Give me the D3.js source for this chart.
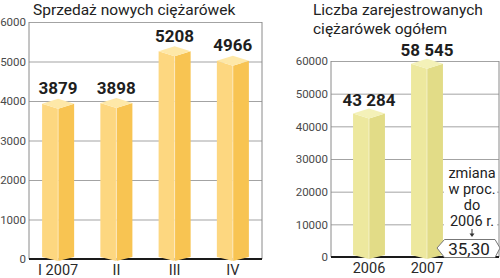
<!DOCTYPE html>
<html lang="pl">
<head>
<meta charset="utf-8">
<title>Ciężarówki</title>
<style>
  body { margin: 0; background: #fff; }
  svg { display: block; }
  .title { font-family: Roboto, sans-serif; font-size: 15.5px; fill: #222; }
  .tick text { font-family: Roboto, sans-serif; }
</style>
</head>
<body>
<script src="https://cdnjs.cloudflare.com/ajax/libs/d3/7.9.0/d3.min.js"></script>
<script>
// sales of new trucks, by quarter
const salesQuarters = ["I 2007", "II", "III", "IV"];
const salesValues = [3879, 3898, 5208, 4966];
const salesLabels = ["3879", "3898", "5208", "4966"];
const salesTicks = [0, 1000, 2000, 3000, 4000, 5000, 6000];

// registered trucks total
const regYears = ["2006", "2007"];
const regValues = [43284, 58545];
const regLabels = ["43 284", "58 545"];
const regTicks = [0, 10000, 20000, 30000, 40000, 50000, 60000];

const changeNote = ["zmiana", "w proc.", "do", "2006 r."];
const changeValue = "35,30";

const svg = d3.select("body").append("svg")
    .attr("width", 500)
    .attr("height", 278);

function panel(o) {
    const g = svg.append("g");

    const x = d3.scaleBand()
        .domain(o.cats)
        .range(o.band)
        .paddingInner(0.45)
        .paddingOuter(0.225);

    const y = d3.scaleLinear()
        .domain([0, o.max])
        .range([o.zero, o.top]);

    // grid + tick labels
    const ax = g.append("g")
        .attr("transform", `translate(${o.x0},0)`)
        .call(d3.axisLeft(y).tickValues(o.ticks).tickFormat(d3.format("d"))
            .tickSize(-(o.x1 - o.x0)).tickPadding(3));
    ax.select(".domain").remove();
    ax.selectAll(".tick line").attr("stroke", "#a3a3a3");
    ax.selectAll(".tick text")
        .attr("fill", "#4a4a4a")
        .style("font-size", "11.5px");

    // frame
    g.append("line")
        .attr("x1", o.x0).attr("x2", o.x0)
        .attr("y1", o.top).attr("y2", o.zero)
        .attr("stroke", "#8a8a8a");
    g.append("line")
        .attr("x1", o.x1).attr("x2", o.x1)
        .attr("y1", o.top).attr("y2", o.zero)
        .attr("stroke", "#8a8a8a");
    g.append("line")
        .attr("x1", o.x0).attr("x2", o.x1)
        .attr("y1", o.zero).attr("y2", o.zero)
        .attr("stroke", "#1a1a1a")
        .attr("stroke-width", 2);

    // category labels
    const bx = g.append("g")
        .attr("transform", `translate(0,${o.zero})`)
        .call(d3.axisBottom(x).tickSize(0).tickPadding(6));
    bx.select(".domain").remove();
    bx.selectAll(".tick text")
        .attr("fill", "#2a2a2a")
        .style("font-size", "14.5px");

    // 3d-ish bars
    const d = 5;
    const bw = x.bandwidth();
    const bars = g.selectAll(".bar")
        .data(o.cats.map((c, i) => ({ c, v: o.values[i], label: o.labels[i] })))
        .join("g")
        .attr("class", "bar");

    const geo = p => {
        const l = x(p.c), r = l + bw, m = l + bw / 2;
        const t = y(p.v) - 2, b = y(0);
        return { l, r, m, t, b };
    };

    bars.append("path")
        .attr("fill", o.colors[1])
        .attr("d", p => {
            const s = geo(p);
            return `M${s.l},${s.t}L${s.m},${s.t + d}L${s.m},${s.b + 2}L${s.l},${s.b - 2}Z`;
        });
    bars.append("path")
        .attr("fill", o.colors[2])
        .attr("d", p => {
            const s = geo(p);
            return `M${s.m},${s.t + d}L${s.r},${s.t}L${s.r},${s.b - 2}L${s.m},${s.b + 2}Z`;
        });
    bars.append("path")
        .attr("fill", o.colors[0])
        .attr("d", p => {
            const s = geo(p);
            return `M${s.l},${s.t}L${s.m},${s.t - d}L${s.r},${s.t}L${s.m},${s.t + d}Z`;
        });
    bars.append("line")
        .attr("stroke", "#fff")
        .attr("stroke-opacity", 0.6)
        .attr("stroke-width", 0.8)
        .attr("x1", p => geo(p).m).attr("x2", p => geo(p).m)
        .attr("y1", p => geo(p).t + d).attr("y2", p => geo(p).b + 2);

    bars.append("text")
        .attr("x", p => geo(p).m)
        .attr("y", p => y(p.v) - o.labelGap)
        .attr("text-anchor", "middle")
        .style("font-family", "Roboto, sans-serif")
        .style("font-weight", 700)
        .style("font-size", "17px")
        .attr("fill", "#1e1e1e")
        .text(p => p.label);

    return { g, x, y };
}

// left: sales
svg.append("text").attr("class", "title")
    .attr("x", 33).attr("y", 15)
    .text("Sprzedaż nowych ciężarówek");

panel({
    cats: salesQuarters, values: salesValues, labels: salesLabels, ticks: salesTicks,
    max: 6000, x0: 29, x1: 262, band: [29, 262], top: 22, zero: 259,
    labelGap: 11.5,
    colors: ["#fee8a8", "#fdd780", "#f8c452"]
});

// right: registrations
const rt = svg.append("text").attr("class", "title")
    .attr("x", 313).attr("y", 15);
rt.append("tspan").attr("x", 313).text("Liczba zarejestrowanych");
rt.append("tspan").attr("x", 313).attr("dy", 18.5).text("ciężarówek ogółem");

panel({
    cats: regYears, values: regValues, labels: regLabels, ticks: regTicks,
    max: 60000, x0: 331, x1: 499, band: [340, 456], top: 61, zero: 257,
    labelGap: 10,
    colors: ["#f4f1b8", "#ede89e", "#e2dc87"]
});

// annotation
const note = svg.append("g");
note.append("rect")
    .attr("x", 444).attr("y", 164)
    .attr("width", 53).attr("height", 74)
    .attr("fill", "#fff");
note.selectAll("text.n")
    .data(changeNote)
    .join("text")
    .attr("class", "n")
    .attr("x", 472)
    .attr("y", (t, i) => 178 + i * 16)
    .attr("text-anchor", "middle")
    .style("font-family", "Roboto, sans-serif")
    .style("font-size", "14.5px")
    .attr("fill", "#222")
    .text(t => t);
note.append("line")
    .attr("x1", 472).attr("x2", 472)
    .attr("y1", 229).attr("y2", 234)
    .attr("stroke", "#333").attr("stroke-width", 1);
note.append("path")
    .attr("d", "M469.5,233.5L474.5,233.5L472,237Z")
    .attr("fill", "#333");
note.append("path")
    .attr("d", "M437,248L444.5,239.5L495,239.5L500,248L495,257.5L444.5,257.5Z")
    .attr("fill", "#fff")
    .attr("stroke", "#777");
note.append("text")
    .attr("x", 469).attr("y", 254.5)
    .attr("text-anchor", "middle")
    .style("font-family", "Roboto, sans-serif")
    .style("font-size", "17px")
    .attr("fill", "#222")
    .text(changeValue);
</script>
</body>
</html>
